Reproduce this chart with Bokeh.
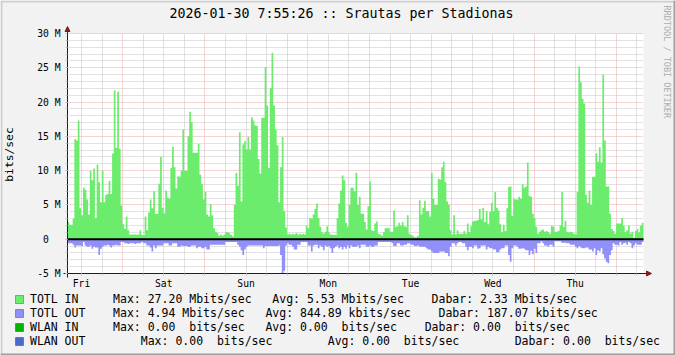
import math
import numpy as np
from bokeh.plotting import figure
from bokeh.models import (FixedTicker, BoxAnnotation, Arrow, NormalHead, Range1d,
                          Label, Legend, LegendItem)
from bokeh.embed import file_html
from bokeh.resources import INLINE

# ---------------- data ----------------
TITLE = "2026-01-30 7:55:26 :: Srautas per Stadionas"
Y_LABEL = "bits/sec"
WATERMARK = "RRDTOOL / TOBI OETIKER"
DAY_LABELS = ["Fri", "Sat", "Sun", "Mon", "Tue", "Wed", "Thu"]
STEP_HOURS = 0.5                           # 30-minute averages
START_CLOCK_H = 7 + 55 / 60 + 26 / 3600    # graph starts Fri 07:55:26 (one week back)

Y_TICKS = [-5, 0, 5, 10, 15, 20, 25, 30]
Y_TICK_LABELS = ["-5 M", "0\u00a0\u00a0", "5 M", "10 M", "15 M", "20 M", "25 M", "30 M"]

# TOTL IN, Mbit/s, 30-min steps
TOTL_IN = [
    2.5, 2.1, 2.1, 3.0, 14.6, 14.4, 17.3, 4.5, 3.5, 7.5, 7.2, 5.8, 3.6, 10.0, 8.6, 10.3,
    3.1, 10.9, 8.3, 5.4, 10.0, 5.4, 6.5, 6.6, 8.5, 6.6, 12.5, 21.7, 13.3, 21.5, 13.2, 4.9,
    2.2, 1.5, 3.3, 1.3, 0.7, 0.7, 0.7, 0.7, 0.7, 0.7, 1.3, 0.6, 0.6, 3.3, 1.3, 3.9,
    5.8, 4.5, 7.0, 3.7, 3.7, 8.1, 12.0, 4.6,
    3.8, 7.1, 6.1, 5.9, 10.4, 13.5, 10.5, 7.4, 9.2, 9.1, 10.0, 16.0, 10.0, 10.0, 15.0, 18.6,
    17.1, 12.6, 12.6, 12.6, 13.9, 9.4, 8.0, 5.8, 6.9, 3.6, 3.3, 5.1, 3.5, 1.6, 1.1, 0.9,
    0.5, 0.7, 0.5, 0.7, 1.0, 1.0, 0.9, 0.6, 0.4, 5.0, 9.7, 7.8, 15.6, 5.5, 13.8, 14.3,
    13.1, 14.9, 13.1, 17.8, 17.3, 16.6,
    16.5, 11.7, 9.6, 17.7, 17.7, 25.1, 19.5, 10.4, 22.0, 27.2, 19.5, 16.0, 13.7, 5.4, 10.5, 14.9,
    4.1, 1.7, 0.7, 0.8, 0.7, 0.8, 0.7, 0.9, 0.7, 0.8, 0.7, 0.8, 0.7, 2.0, 1.6, 3.1,
    3.0, 3.6, 4.4, 5.2, 3.1, 1.8, 1.0, 0.8, 1.1, 1.9, 1.0, 0.7, 0.7, 0.6, 0.6, 3.1,
    5.2, 7.1, 9.3, 8.6, 2.4, 1.8, 5.0, 7.5,
    7.5, 7.0, 9.7, 5.0, 6.2, 3.7, 3.7, 2.5, 1.4, 4.8, 8.4, 1.3, 1.2, 2.3, 2.6, 0.8,
    0.7, 0.5, 1.0, 1.6, 1.6, 1.6, 1.1, 1.1, 4.2, 1.8, 1.9, 2.4, 2.0, 2.5, 1.9, 1.8,
    3.5, 0.8, 0.6, 0.5, 0.3, 0.3, 0.5, 5.7, 3.6, 4.6, 5.6, 4.1, 4.1, 3.3, 9.7, 5.9,
    5.0, 5.0, 8.8, 8.7, 10.5, 11.3, 8.3, 5.5, 5.0,
    1.3, 0.7, 3.5, 0.7, 1.3, 0.8, 0.8, 0.8, 1.2, 0.8, 2.3, 1.0, 1.9, 2.6, 2.7, 2.7,
    2.8, 4.4, 2.9, 4.6, 2.5, 4.1, 2.2, 4.0, 5.3, 4.1, 6.9, 4.6, 4.2, 2.2, 1.0, 2.1,
    1.2, 4.5, 7.6, 7.7, 3.4, 5.9, 5.8, 5.8, 6.2, 5.9, 8.0, 7.5, 7.7, 11.2, 6.3, 6.2,
    3.7, 3.1, 1.8, 0.8, 1.1, 1.3, 1.4,
    1.1, 1.2, 1.0, 0.8, 2.0, 1.8, 1.1, 1.1, 1.2, 2.0, 6.9, 1.8, 2.7, 1.1, 1.0, 1.1,
    1.0, 0.8, 0.7, 6.9, 25.2, 22.9, 20.5, 19.8, 6.5, 5.3, 7.1, 5.0, 9.1, 9.1, 12.5, 11.3,
    13.4, 11.2, 24.0, 14.4, 7.7, 7.7, 3.7, 1.5, 1.2, 0.8, 2.3, 2.3, 2.3, 3.1, 2.0, 1.0,
    1.3, 2.0, 0.8, 1.1, 0.2, 1.2, 1.5, 1.0, 2.0, 2.4,
]

# TOTL OUT, Mbit/s (drawn below zero)
TOTL_OUT = [
    0.6, 0.6, 0.6, 0.8, 1.2, 0.9, 0.9, 0.9, 1.0, 0.4, 0.9, 1.1, 1.1, 0.9, 1.4, 1.1,
    1.2, 1.2, 2.3, 1.4, 1.1, 0.9, 0.9, 0.8, 0.9, 1.2, 0.9, 0.9, 0.8, 0.9, 0.9, 0.4,
    0.4, 0.6, 0.6, 0.7, 0.6, 0.6, 0.6, 0.7, 0.6, 0.6, 0.6, 0.4, 0.6, 0.6, 0.9, 0.9,
    1.2, 1.8, 0.9, 1.3, 0.9, 0.9, 0.9, 0.9,
    0.6, 0.6, 0.6, 0.9, 0.9, 0.6, 0.6, 0.6, 1.1, 1.1, 0.9, 1.0, 1.0, 1.0, 1.1, 1.1,
    0.9, 0.9, 0.9, 1.3, 1.1, 1.1, 1.3, 1.3, 1.1, 1.5, 1.5, 0.8, 0.8, 0.8, 0.8, 0.8,
    0.8, 0.8, 0.8, 0.8, 0.4, 0.4, 0.4, 0.4, 0.4, 0.4, 0.4, 0.8, 1.1, 1.6, 2.3, 1.5,
    1.1, 0.9, 0.9, 0.9, 0.9, 0.9,
    0.9, 0.9, 0.9, 0.9, 1.3, 1.0, 1.0, 1.0, 1.0, 1.0, 1.0, 1.0, 1.0, 0.9, 2.3, 4.94,
    4.6, 0.9, 0.6, 0.8, 0.8, 1.1, 1.5, 1.5, 0.8, 0.8, 0.4, 0.4, 0.4, 0.4, 0.9, 0.9,
    1.8, 0.9, 0.8, 0.8, 1.3, 0.9, 1.1, 1.6, 0.9, 1.1, 1.0, 1.3, 2.0, 1.3, 1.1, 0.9,
    1.3, 1.1, 1.5, 1.1, 1.4, 0.9, 1.3, 0.9,
    1.1, 1.1, 1.1, 0.9, 1.3, 0.8, 0.8, 0.8, 1.1, 1.1, 0.9, 1.1, 1.1, 0.9, 0.9, 0.4,
    0.4, 0.4, 0.4, 0.4, 0.4, 0.4, 0.4, 0.6, 1.0, 1.0, 0.6, 0.6, 0.9, 0.9, 0.8, 0.8,
    0.6, 0.6, 0.8, 0.8, 1.0, 1.0, 0.9, 1.1, 1.1, 1.1, 1.1, 1.3, 1.5, 1.5, 1.8, 2.0,
    2.0, 2.0, 2.0, 1.8, 1.8, 1.8, 2.0, 2.0, 2.5,
    1.1, 0.6, 0.6, 0.9, 0.6, 0.4, 0.4, 0.6, 0.6, 1.1, 1.6, 1.1, 1.1, 1.3, 0.9, 0.9,
    1.4, 1.3, 0.9, 0.9, 0.9, 1.5, 1.1, 1.3, 1.3, 1.5, 1.5, 1.9, 1.9, 1.5, 1.3, 1.3,
    0.9, 0.9, 2.3, 3.3, 1.3, 0.9, 0.9, 1.1, 1.4, 1.4, 1.3, 1.4, 1.6, 1.6, 2.3, 1.7,
    2.2, 1.4, 2.0, 0.6, 0.6, 0.3, 0.6,
    0.9, 0.9, 1.1, 0.8, 0.8, 1.1, 0.3, 0.3, 0.3, 0.3, 0.5, 0.5, 0.5, 0.6, 0.6, 0.8,
    0.8, 0.8, 1.1, 1.3, 1.0, 1.2, 1.3, 1.3, 1.2, 1.2, 1.5, 1.5, 1.8, 1.3, 2.3, 1.6,
    1.8, 1.3, 2.2, 2.8, 3.3, 3.5, 2.3, 1.6, 0.6, 0.8, 0.8, 0.9, 0.4, 0.8, 0.6, 0.5,
    0.8, 0.4, 0.6, 1.3, 0.9, 0.6, 0.8, 0.8, 0.8, 0.4,
]

NB = "\u00a0"
LEGEND_ROWS = [
    ["TOTL IN", "Max: 27.20 Mbits/sec", "Avg: 5.53 Mbits/sec", "Dabar: 2.33 Mbits/sec"],
    ["TOTL OUT", "Max: 4.94 Mbits/sec", "Avg: 844.89 kbits/sec", "Dabar: 187.07 kbits/sec"],
    ["WLAN IN", "Max: 0.00  bits/sec", "Avg: 0.00  bits/sec", "Dabar: 0.00  bits/sec"],
    ["WLAN OUT", "Max: 0.00  bits/sec", "Avg: 0.00  bits/sec", "Dabar: 0.00  bits/sec"],
]
LEGEND_COLS = [[12, 35, 58], [12, 34, 59], [12, 34, 57], [16, 43, 70]]  # text columns

# ---------------- styling ----------------
C_IN, C_OUT, C_WIN, C_WOUT = "#6CEC6C", "#9090F8", "#00B400", "#4E6AC8"
BACK, SHADE_A, SHADE_B = "#F2F2F2", "#CFCFCF", "#9E9E9E"
GRID, MGRID, ARROW_C, AXIS_C = "#C4C4C4", "#EFA8A8", "#801F1F", "#1F1F1F"
MONO = "DejaVu Sans Mono"

W, H = 675, 355
BOX_L, BOX_T, BOX_R, BOX_B = 67, 33, 643, 273     # chart box in canvas px
n = len(TOTL_IN)
total_h = n * STEP_HOURS
PX_PER_H = (BOX_R - BOX_L) / total_h
PX_PER_M = (BOX_B - BOX_T) / 35.0

# the frame is the whole canvas; data ranges place the chart box where rrdtool has it
x_range = Range1d(-BOX_L / PX_PER_H, (W - BOX_L) / PX_PER_H)
y_range = Range1d(-5 - (H - BOX_B) / PX_PER_M, 30 + BOX_T / PX_PER_M)


def sy(Y):            # canvas y (top-down) -> screen y (bottom-up)
    return H - Y


p = figure(width=W, height=H, output_backend="svg", toolbar_location=None,
           x_range=x_range, y_range=y_range, title=None,
           min_border_left=0, min_border_right=0, min_border_top=0, min_border_bottom=0)
p.background_fill_color = BACK
p.border_fill_color = BACK
p.outline_line_color = None

# white canvas of the chart
p.add_layout(BoxAnnotation(left=0, right=total_h, bottom=-5, top=30, fill_color="white",
                           fill_alpha=1, line_color=None, level="image"))

# ---- time axis / value axis (drawn in place, rrdtool style) ----
first_noon = 12 - START_CLOCK_H
noons = [first_noon + 24 * k for k in range(len(DAY_LABELS))]
six_h = [float(t) for t in np.arange(first_noon, total_h, 6.0)]
midnights = [t for t in six_h if abs((t + START_CLOCK_H) % 24) < 1e-6]
minor_x = [t for t in six_h if t not in midnights]

xax, yax = p.xaxis[0], p.yaxis[0]
xax.fixed_location = -5
yax.fixed_location = 0
xax.bounds = (-4 / PX_PER_H, total_h + 3 / PX_PER_H)
yax.bounds = (-5 - 4 / PX_PER_M, 30 + 2 / PX_PER_M)
xax.ticker = FixedTicker(ticks=noons, minor_ticks=six_h)
xax.major_label_overrides = {t: d for t, d in zip(noons, DAY_LABELS)}
yax.ticker = FixedTicker(ticks=Y_TICKS, minor_ticks=list(range(-5, 31)))
yax.major_label_overrides = {t: s for t, s in zip(Y_TICKS, Y_TICK_LABELS)}
for ax in (xax, yax):
    ax.axis_line_color = AXIS_C
    ax.major_tick_in = 0
    ax.minor_tick_in = 0
    ax.major_tick_out = 2
    ax.minor_tick_out = 2
    ax.major_label_text_font = MONO
    ax.major_label_text_font_size = "9.7px"
    ax.major_label_text_color = "black"
xax.major_tick_line_color = GRID
xax.minor_tick_line_color = GRID
yax.major_tick_line_color = MGRID
yax.minor_tick_line_color = GRID
xax.major_label_standoff = 2
yax.major_label_standoff = 5
yax.axis_label = Y_LABEL
yax.axis_label_text_font = MONO
yax.axis_label_text_font_size = "11.3px"
yax.axis_label_text_font_style = "normal"
yax.axis_label_text_color = "black"
yax.axis_label_standoff = 18

# ---- grid ----
xg, yg = p.xgrid[0], p.ygrid[0]
xg.ticker = FixedTicker(ticks=midnights, minor_ticks=minor_x)
yg.ticker = FixedTicker(ticks=[t for t in Y_TICKS if t > -5],
                        minor_ticks=[v for v in range(-4, 31) if v % 5])
xg.bounds = (0, total_h)
yg.bounds = (-5, 30)
has_cross = "cross_bounds" in xg.properties()
if has_cross:
    xg.cross_bounds = (-5, 30)
    yg.cross_bounds = (0, total_h)
    for g in (xg, yg):
        g.grid_line_color = MGRID
        g.grid_line_dash = "1 1"
        g.minor_grid_line_color = GRID
        g.minor_grid_line_dash = "1 1"
else:
    xg.visible = False
    yg.visible = False
    ymin = [v for v in range(-4, 31) if v % 5]
    ymaj = [v for v in Y_TICKS if v > -5]
    p.segment(x0=minor_x, y0=-5, x1=minor_x, y1=30, line_color=GRID, line_dash="1 1", level="underlay")
    p.segment(x0=0, y0=ymin, x1=total_h, y1=ymin, line_color=GRID, line_dash="1 1", level="underlay")
    p.segment(x0=midnights, y0=-5, x1=midnights, y1=30, line_color=MGRID, line_dash="1 1", level="underlay")
    p.segment(x0=0, y0=ymaj, x1=total_h, y1=ymaj, line_color=MGRID, line_dash="1 1", level="underlay")

# ---- data areas ----
edges = np.arange(n + 1) * STEP_HOURS
xs = np.repeat(edges, 2)[1:-1]
yin = np.repeat(np.array(TOTL_IN), 2)
yout = -np.repeat(np.array(TOTL_OUT), 2)
r_in = p.varea(x=xs, y1=np.zeros_like(xs), y2=yin, fill_color=C_IN, fill_alpha=1)
r_out = p.varea(x=xs, y1=yout, y2=np.zeros_like(xs), fill_color=C_OUT, fill_alpha=1)
p.line(x=[0, total_h], y=[0, 0], line_color="black", line_width=2)

# ---- arrow heads ----
p.add_layout(Arrow(end=NormalHead(size=5, fill_color=ARROW_C, line_color=ARROW_C),
                   x_start=0, y_start=30, x_end=0, y_end=30 + 7 / PX_PER_M,
                   line_color=AXIS_C, line_width=1))
p.add_layout(Arrow(end=NormalHead(size=5, fill_color=ARROW_C, line_color=ARROW_C),
                   x_start=total_h, y_start=-5, x_end=total_h + 8 / PX_PER_H, y_end=-5,
                   line_color=AXIS_C, line_width=1))

# ---- title & watermark ----
p.add_layout(Label(x=341, y=sy(13), x_units="screen", y_units="screen", text=TITLE,
                   text_align="center", text_baseline="middle", text_font=MONO,
                   text_font_size="13.3px", text_color="black"))
p.add_layout(Label(x=666, y=sy(5), x_units="screen", y_units="screen", text=WATERMARK,
                   angle=-math.pi / 2, text_align="left", text_baseline="middle",
                   text_font=MONO, text_font_size="8.5px", text_color="#ADADAD"))

# ---- legend (text rows) + colour boxes ----
colors = [C_IN, C_OUT, C_WIN, C_WOUT]
row_centers = [299, 313, 327, 341]
proxy = p.line(x=[], y=[], line_alpha=0)     # invisible legend glyph
items = []
for row, cols, c, rc in zip(LEGEND_ROWS, LEGEND_COLS, colors, row_centers):
    txt = row[0]
    for piece, col in zip(row[1:], cols):
        txt = txt + NB * max(1, col - len(txt)) + piece
    txt = txt.replace("  ", NB + " ")
    items.append(LegendItem(label=txt, renderers=[proxy]))
    p.add_layout(BoxAnnotation(left=15, right=23, top=sy(rc - 4), bottom=sy(rc + 4),
                               left_units="screen", right_units="screen",
                               top_units="screen", bottom_units="screen",
                               fill_color=c, fill_alpha=1, line_color="black",
                               line_width=1))

legend = Legend(items=items, location=(15, 7), orientation="vertical",
                glyph_width=8, glyph_height=8, label_standoff=7, label_height=12,
                spacing=0, padding=0, margin=0, border_line_color=None,
                background_fill_alpha=0, label_text_font=MONO,
                label_text_font_size="11.5px", label_text_color="black")
legend.item_background_fill_alpha = 0
p.add_layout(legend)

# ---- 3D border of the image ----
for (l, r, t, b, c) in ((0, W, 0, 2, SHADE_A), (0, 2, 0, H, SHADE_A),
                        (0, W, H - 2, H, SHADE_B), (W - 2, W, 0, H, SHADE_B)):
    p.add_layout(BoxAnnotation(left=l, right=r, top=sy(t), bottom=sy(b),
                               left_units="screen", right_units="screen",
                               top_units="screen", bottom_units="screen",
                               fill_color=c, fill_alpha=1, line_color=None))

open("out.html", "w").write(file_html(p, INLINE))
